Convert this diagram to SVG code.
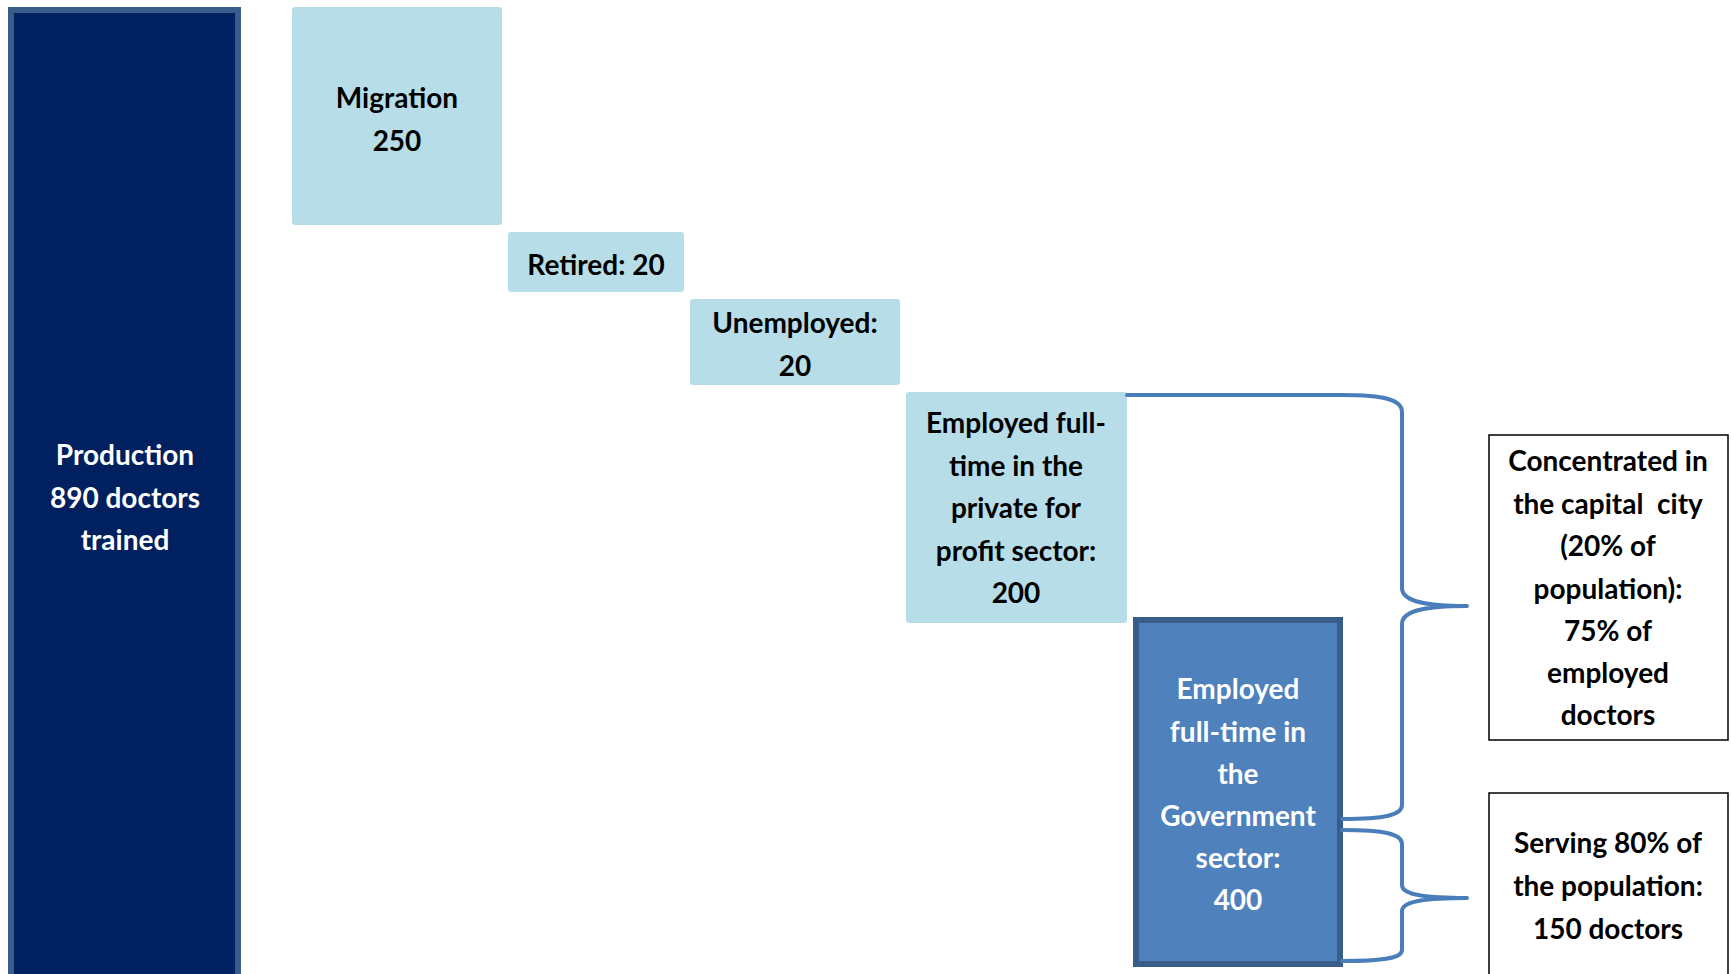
<svg xmlns="http://www.w3.org/2000/svg" width="1732" height="974" viewBox="0 0 1732 974">
<style>
  .t { font-family: Lato, "Open Sans", "Liberation Sans", sans-serif; font-weight: bold; font-size: 28px; text-anchor: middle; fill: #000000; }
  .w { fill: #ffffff; }
  .light { fill: #b7dee8; }
  .note { fill: #ffffff; stroke: #000000; stroke-width: 1.5; }
  .brace { fill: none; stroke: #4a7ebb; stroke-width: 4; stroke-linecap: round; stroke-linejoin: round; }
</style>
<rect width="1732" height="974" fill="#ffffff"/>

<g id="production">
  <rect x="11" y="10" width="227" height="1000" fill="#002060" stroke="#385d8a" stroke-width="6"/>
  <text class="t w" x="125" y="465">Production</text>
  <text class="t w" x="125" y="507.5">890 doctors</text>
  <text class="t w" x="125" y="550">trained</text>
</g>

<g id="migration">
  <rect class="light" x="292" y="7" width="210" height="218" rx="3"/>
  <text class="t" x="397" y="108">Migration</text>
  <text class="t" x="397" y="151">250</text>
</g>

<g id="retired">
  <rect class="light" x="508" y="232" width="176" height="60" rx="3"/>
  <text class="t" x="596" y="275">Retired: 20</text>
</g>

<g id="unemployed">
  <rect class="light" x="690" y="299" width="210" height="86" rx="3"/>
  <text class="t" x="795" y="333">Unemployed:</text>
  <text class="t" x="795" y="376">20</text>
</g>

<g id="private">
  <rect class="light" x="906" y="392" width="221" height="231" rx="3"/>
  <text class="t" x="1016" y="433">Employed full-</text>
  <text class="t" x="1016" y="476">time in the</text>
  <text class="t" x="1016" y="518">private for</text>
  <text class="t" x="1016" y="561">profit sector:</text>
  <text class="t" x="1016" y="603">200</text>
</g>

<g id="government">
  <rect x="1136" y="620" width="204" height="344" fill="#4f81bd" stroke="#385d8a" stroke-width="6"/>
  <text class="t w" x="1238" y="699">Employed</text>
  <text class="t w" x="1238" y="741.5">full-time in</text>
  <text class="t w" x="1238" y="784">the</text>
  <text class="t w" x="1238" y="826">Government</text>
  <text class="t w" x="1238" y="868">sector:</text>
  <text class="t w" x="1238" y="910">400</text>
</g>

<g id="connectors">
  <path class="brace" d="M1127,395 L1342,395 C1385,395 1402,400 1402,412 L1402,588 C1402,600 1420,606 1467,606 C1420,606 1402,612 1402,624 L1402,805 C1402,815 1385,819 1342,819"/>
  <path class="brace" d="M1342,830 C1385,830 1402,834 1402,844 L1402,885 C1402,894 1420,898 1467,898 C1420,898 1402,902 1402,911 L1402,950 C1402,958 1385,961 1342,961"/>
</g>

<g id="capital">
  <rect class="note" x="1489" y="435" width="239" height="305"/>
  <text class="t" x="1608" y="471">Concentrated in</text>
  <text class="t" x="1608" y="514" xml:space="preserve">the capital  city</text>
  <text class="t" x="1608" y="556">(20% of</text>
  <text class="t" x="1608" y="599">population):</text>
  <text class="t" x="1608" y="641">75% of</text>
  <text class="t" x="1608" y="683">employed</text>
  <text class="t" x="1608" y="725">doctors</text>
</g>

<g id="serving">
  <rect class="note" x="1489" y="793" width="239" height="200"/>
  <text class="t" x="1608" y="853">Serving 80% of</text>
  <text class="t" x="1608" y="896">the population:</text>
  <text class="t" x="1608" y="939">150 doctors</text>
</g>
</svg>
